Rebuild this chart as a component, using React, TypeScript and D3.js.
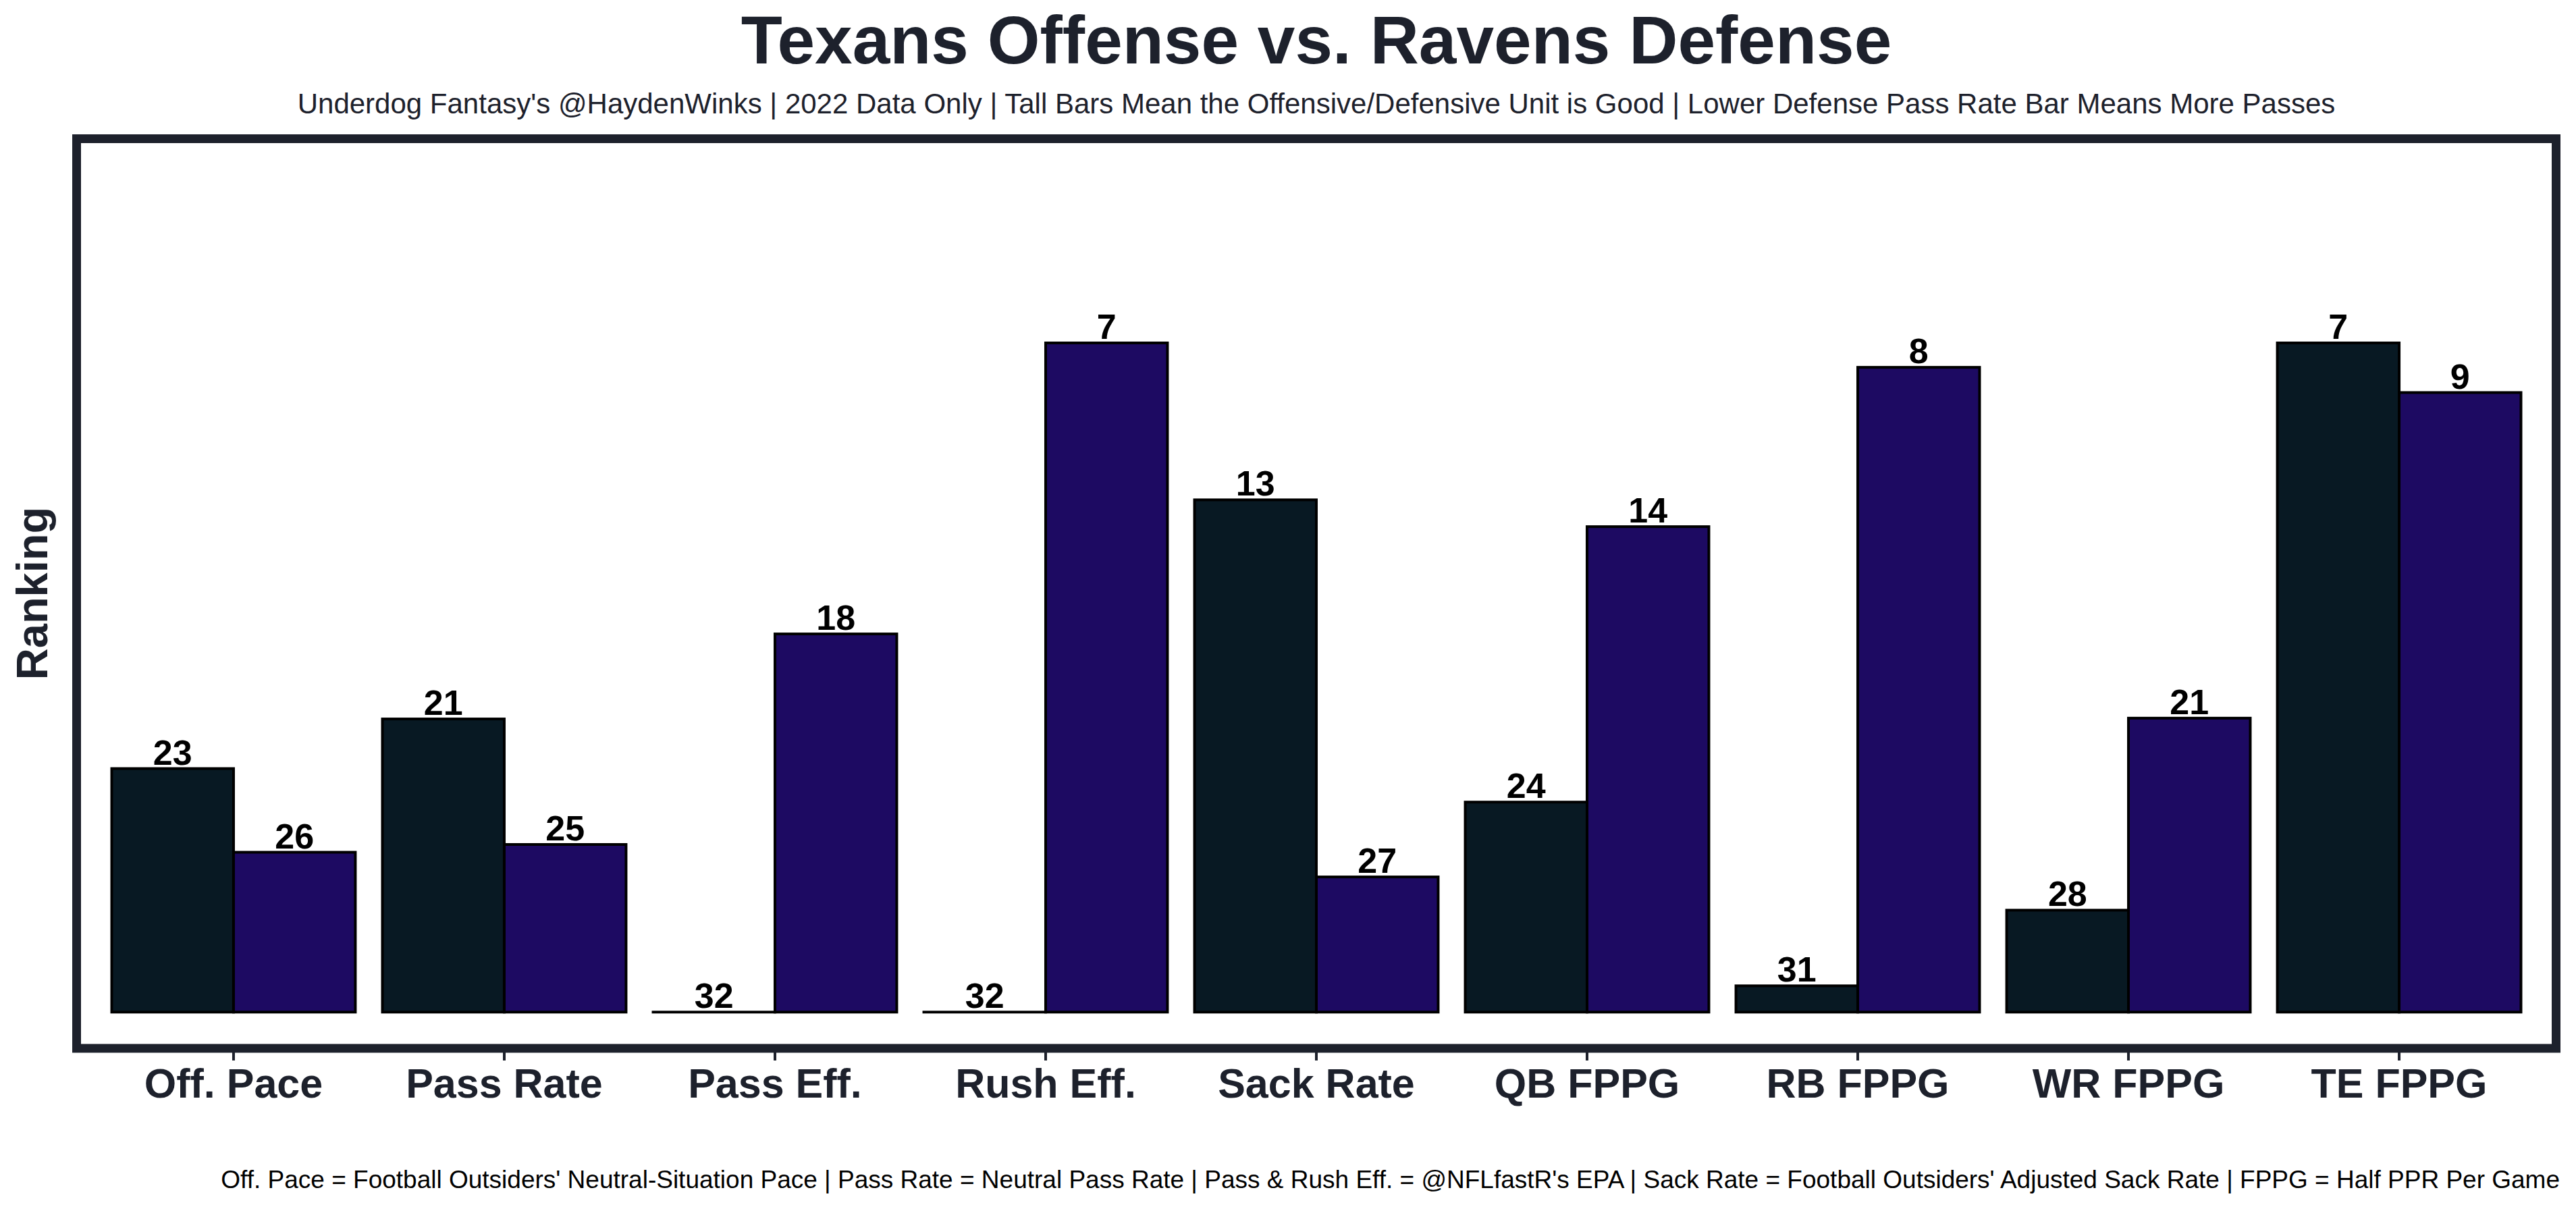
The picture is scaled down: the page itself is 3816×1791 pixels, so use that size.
import { useMemo } from "react";
import * as d3 from "d3";

const WIDTH = 3816;
const HEIGHT = 1791;
const FONT = "'Liberation Sans', Arial, Helvetica, sans-serif";
const INK = "#1d212c";

// frame = the axes box (thick spine)
const FRAME = { left: 113.5, top: 205.5, right: 3786.5, bottom: 1553, stroke: 13 };
const INNER = { left: 120, top: 212, right: 3780, bottom: 1547 };

const categories = [
  "Off. Pace",
  "Pass Rate",
  "Pass Eff.",
  "Rush Eff.",
  "Sack Rate",
  "QB FPPG",
  "RB FPPG",
  "WR FPPG",
  "TE FPPG",
];

// bar heights (in rank-like units above the last-place baseline)
const offenseValues = [9.08, 10.93, 0, 0, 19.1, 7.83, 0.98, 3.8, 24.95];
const defenseValues = [5.96, 6.25, 14.1, 24.95, 5.04, 18.1, 24.04, 10.96, 23.1];

// printed rank labels
const offenseRanks = [23, 21, 32, 32, 13, 24, 31, 28, 7];
const defenseRanks = [26, 25, 18, 7, 27, 14, 8, 21, 9];

const seriesKeys = ["offense", "defense"];
const seriesColors = ["#081923", "#1d0a62"];

const TITLE = "Texans Offense vs. Ravens Defense";
const SUBTITLE =
  "Underdog Fantasy's @HaydenWinks | 2022 Data Only | Tall Bars Mean the Offensive/Defensive Unit is Good | Lower Defense Pass Rate Bar Means More Passes";
const FOOTNOTE =
  "Off. Pace = Football Outsiders' Neutral-Situation Pace | Pass Rate = Neutral Pass Rate | Pass & Rush Eff. = @NFLfastR's EPA | Sack Rate = Football Outsiders' Adjusted Sack Rate | FPPG = Half PPR Per Game";
const Y_LABEL = "Ranking";

export default function App() {
  const xScale = useMemo(
    () =>
      d3
        .scaleBand()
        .domain(categories)
        .range([INNER.left, INNER.right])
        .paddingInner(0.1)
        .paddingOuter(0.1135),
    []
  );

  const xSub = useMemo(
    () => d3.scaleBand().domain(seriesKeys).range([0, xScale.bandwidth()]).padding(0),
    [xScale]
  );

  const yScale = useMemo(
    () => d3.scaleLinear().domain([-1.2, 32.4]).range([INNER.bottom, INNER.top]),
    []
  );

  const series = [
    { key: "offense", values: offenseValues, ranks: offenseRanks, color: seriesColors[0] },
    { key: "defense", values: defenseValues, ranks: defenseRanks, color: seriesColors[1] },
  ];

  const y0 = yScale(0);
  const midX = (FRAME.left + FRAME.right) / 2;

  return (
    <svg
      width={WIDTH}
      height={HEIGHT}
      style={{ position: "absolute", left: 0, top: 0, background: "#ffffff" }}
      fontFamily={FONT}
    >
      <rect x={0} y={0} width={WIDTH} height={HEIGHT} fill="#ffffff" />

      <text x={midX} y={94} textAnchor="middle" fontSize={100} fontWeight="bold" fill={INK}>
        {TITLE}
      </text>
      <text x={midX} y={168} textAnchor="middle" fontSize={42} fill={INK}>
        {SUBTITLE}
      </text>

      {/* bars; zero-height bars still show their outline as a flat line */}
      {series.map((s) =>
        categories.map((cat, i) => {
          const x = xScale(cat)! + xSub(s.key)!;
          const top = yScale(s.values[i]);
          return (
            <rect
              key={s.key + i}
              x={x}
              y={Math.min(top, y0 - 0.01)}
              width={xSub.bandwidth()}
              height={Math.max(0.01, y0 - top)}
              fill={s.color}
              stroke="#000000"
              strokeWidth={4}
            />
          );
        })
      )}

      {/* rank labels */}
      {series.map((s) =>
        categories.map((cat, i) => (
          <text
            key={"l" + s.key + i}
            x={xScale(cat)! + xSub(s.key)! + xSub.bandwidth() / 2}
            y={yScale(s.values[i]) - 6}
            textAnchor="middle"
            fontSize={52}
            fontWeight="bold"
            fill="#000000"
          >
            {s.ranks[i]}
          </text>
        ))
      )}

      {/* axes box */}
      <rect
        x={FRAME.left}
        y={FRAME.top}
        width={FRAME.right - FRAME.left}
        height={FRAME.bottom - FRAME.top}
        fill="none"
        stroke={INK}
        strokeWidth={FRAME.stroke}
      />

      {/* x ticks + labels */}
      {categories.map((cat) => {
        const cx = xScale(cat)! + xScale.bandwidth() / 2;
        return (
          <g key={"t" + cat}>
            <line x1={cx} x2={cx} y1={1559} y2={1571} stroke={INK} strokeWidth={4} />
            <text x={cx} y={1626} textAnchor="middle" fontSize={61} fontWeight="bold" fill={INK}>
              {cat}
            </text>
          </g>
        );
      })}

      <text
        transform={`translate(70,879) rotate(-90)`}
        textAnchor="middle"
        fontSize={65}
        fontWeight="bold"
        fill={INK}
      >
        {Y_LABEL}
      </text>

      <text x={3792} y={1760} textAnchor="end" fontSize={37} fill="#000000">
        {FOOTNOTE}
      </text>
    </svg>
  );
}
